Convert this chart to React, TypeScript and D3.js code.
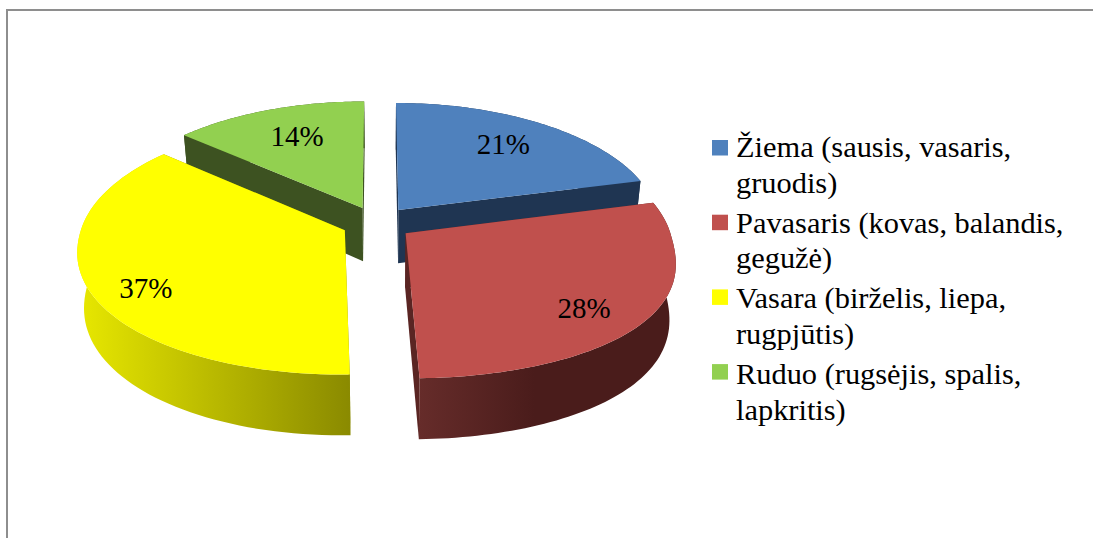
import React from "react";
import * as d3 from "d3";

const categories = ["Žiema", "Pavasaris", "Vasara", "Ruduo"];
const values = [21, 28.49, 36.91, 13.6];
const legendLines = [
  ["Žiema (sausis, vasaris,", "gruodis)"],
  ["Pavasaris (kovas, balandis,", "geguže\u0307)"],
  ["Vasara (birželis, liepa,", "rugpjūtis)"],
  ["Ruduo (rugsėjis, spalis,", "lapkritis)"],
];
const topColors = ["#4f81bd", "#c0504d", "#ffff00", "#92d050"];
const cutColors = ["#1f3552", "#5a2523", "#8a8a00", "#3d5221"];
const wallStops = [
  ["#1f3552", "#1f3552"],
  ["#662c2a", "#4a1c1b"],
  ["#e8e800", "#8a8a00"],
  ["#3d5221", "#3d5221"],
];
const labelRadius = [0.73, 0.83, 0.83, 0.7];
const labelAngleShift = [-0.5, 5, -6.5, 1];
const frontBulge = [1, 0.8, 0.93, 1];

const W = 1093, H = 538;
const cx = 377, cy = 223, B = 262, A = 123.8, K = 0.128, EXPLODE = 0.135;
const DEPTH = 54, DEPTH_GAIN = 0.12, BASE_SCALE = 0.978, BASE_CX = 385;
const FONT = "'Liberation Serif','Times New Roman',serif";

const project = (u: number, v: number) => {
  const s = 1 / (1 - K * v);
  return [cx + B * u * s, cy + A * v * s] as [number, number];
};
const lower = (u: number, v: number) => {
  const [x, y] = project(u, v);
  return [BASE_CX + (x - BASE_CX) * BASE_SCALE, y + DEPTH * (1 + DEPTH_GAIN * v)] as [number, number];
};

const arcs = d3.pie<number>().sort(null)(values);
const line = d3.line();

const slices = arcs.map((a, i) => {
  const mid = (a.startAngle + a.endAngle) / 2;
  const ex = EXPLODE * Math.sin(mid), ey = -EXPLODE * Math.cos(mid);
  const angles = d3.range(0, 73).map((t) => a.startAngle + ((a.endAngle - a.startAngle) * t) / 72);
  const disc = angles.map((t) => {
    const c = -Math.cos(t);
    const front = c > 0 ? Math.pow(c, frontBulge[i]) : c;
    return [ex + Math.sin(t), ey + front] as [number, number];
  });
  const apex: [number, number] = [ex, ey];
  const first = disc[0], last = disc[disc.length - 1];
  const top = [apex, ...disc].map(([u, v]) => project(u, v));
  const wall = [...disc.map(([u, v]) => project(u, v)), ...disc.slice().reverse().map(([u, v]) => lower(u, v))];
  const face = (p: [number, number]) => [project(...apex), project(...p), lower(...p), lower(...apex)];
  const xs = wall.map((p) => p[0]);
  const r = labelRadius[i];
  const la = mid + (labelAngleShift[i] * Math.PI) / 180;
  const [lx, ly] = project(ex + r * Math.sin(la), ey - r * Math.cos(la));
  return {
    i,
    top: line(top as any)! + "Z",
    wall: line(wall as any)! + "Z",
    faces: [line(face(first) as any)! + "Z", line(face(last) as any)! + "Z"],
    x0: d3.min(xs)!,
    x1: d3.max(xs)!,
    lx,
    ly,
    label: `${Math.round(values[i])}%`,
  };
});
// back slices first, front slices last
const drawOrder = [3, 0, 2, 1];

export default function App() {
  return (
    <svg width={W} height={H} style={{ position: "fixed", left: 0, top: 0, display: "block", background: "#fff" }}>
      <defs>
        {slices.map((s) => (
          <linearGradient key={s.i} id={`wall${s.i}`} gradientUnits="userSpaceOnUse" x1={s.x0} x2={s.x1} y1={0} y2={0}>
            <stop offset="0" stopColor={wallStops[s.i][0]} />
            <stop offset={s.i === 1 ? "0.45" : "1"} stopColor={wallStops[s.i][1]} />
          </linearGradient>
        ))}
      </defs>
      <path d="M7,538V10H1093" fill="none" stroke="#8e8e8e" strokeWidth={2} />
      {drawOrder.map((i) => {
        const s = slices[i];
        return (
          <g key={i}>
            {s.faces.map((d, j) => <path key={j} d={d} fill={cutColors[i]} />)}
            <path d={s.wall} fill={`url(#wall${i})`} />
            <path d={s.top} fill={topColors[i]} />
          </g>
        );
      })}
      {slices.map((s) => (
        <text key={s.i} x={s.lx} y={s.ly + 9} textAnchor="middle" fontFamily={FONT} fontSize={29} fill="#000">{s.label}</text>
      ))}
      {categories.map((c, i) => (
        <g key={c}>
          <rect x={712} y={140 + i * 74.7} width={16} height={15.5} fill={topColors[i]} />
          {legendLines[i].map((t, j) => (
            <text key={j} x={736} y={157 + i * 75.7 + j * 35.5} fontFamily={FONT} fontSize={30.4} fill="#000">{t}</text>
          ))}
        </g>
      ))}
    </svg>
  );
}
